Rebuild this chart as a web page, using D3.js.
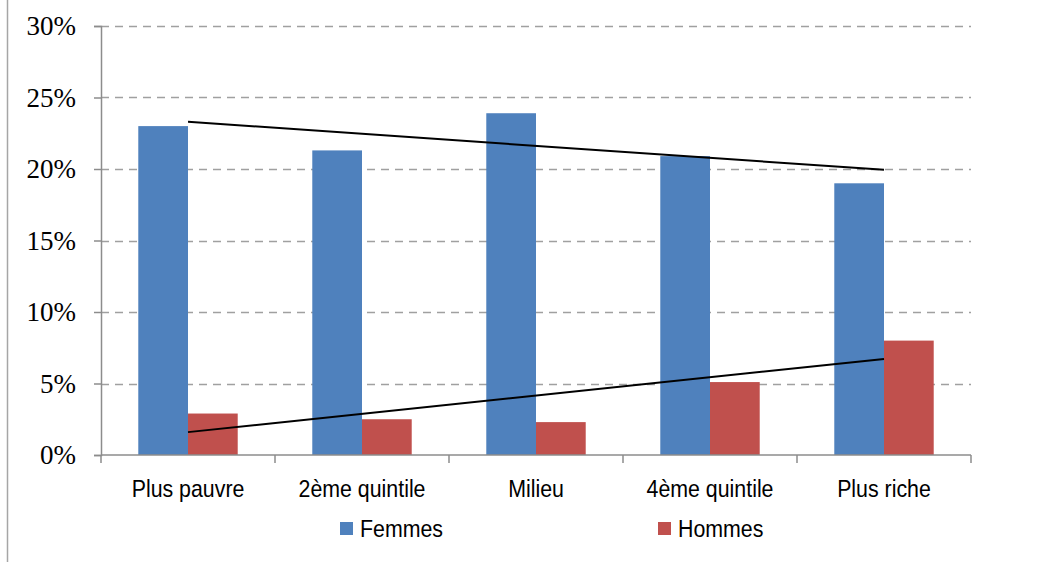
<!DOCTYPE html>
<html>
<head>
<meta charset="utf-8">
<script src="https://cdn.jsdelivr.net/npm/d3@7/dist/d3.min.js"></script>
<style>
  html, body { margin: 0; padding: 0; background: #fff; }
  svg { display: block; }
</style>
</head>
<body>
<svg id="chart" width="1046" height="562"></svg>
<script>
// Share by wealth quintile, per sex (%)
const categories = ["Plus pauvre", "2ème quintile", "Milieu", "4ème quintile", "Plus riche"];
const femmes = [23.0, 21.3, 23.9, 20.9, 19.0];
const hommes = [2.9, 2.5, 2.3, 5.1, 8.0];
const seriesNames = ["Femmes", "Hommes"];
const seriesColors = ["#4F81BD", "#C0504D"];
const yTicks = [0, 5, 10, 15, 20, 25, 30];

const svg = d3.select("#chart");
const margin = { left: 101, right: 75, top: 26, bottom: 107 };
const W = 1046, H = 562;
const innerW = W - margin.left - margin.right;
const innerH = H - margin.top - margin.bottom;
const sansFont = "'Liberation Sans', Arial, sans-serif";
const squeeze = 0.89;

// outer frame edge on the left
svg.append("line")
  .attr("x1", 7.5).attr("x2", 7.5).attr("y1", 0).attr("y2", H)
  .attr("stroke", "#a6a6a6").attr("stroke-width", 1.5);

const g = svg.append("g").attr("transform", `translate(${margin.left},${margin.top})`);

const x = d3.scaleBand().domain(categories).range([0, innerW]).paddingInner(0).paddingOuter(0);
const y = d3.scaleLinear().domain([0, 30]).range([innerH, 0]);

// gap between groups = 150% of a bar width
const barW = x.bandwidth() / 3.5;
const inner = d3.scaleBand().domain(seriesNames)
  .range([barW * 0.75, barW * 2.75]).padding(0);

// dashed gridlines
g.append("g").selectAll("line")
  .data(yTicks.filter(t => t > 0))
  .join("line")
  .attr("x1", 0).attr("x2", innerW)
  .attr("y1", d => Math.round(y(d)) + 0.5).attr("y2", d => Math.round(y(d)) + 0.5)
  .attr("stroke", "#a0a0a0").attr("stroke-width", 1.5)
  .attr("stroke-dasharray", "8,6");

// bars
const rows = categories.map((c, i) => ({ cat: c, vals: [femmes[i], hommes[i]] }));
const groups = g.append("g").selectAll("g")
  .data(rows).join("g")
  .attr("transform", d => `translate(${x(d.cat)},0)`);
groups.selectAll("rect")
  .data(d => d.vals.map((v, j) => ({ key: seriesNames[j], v, j })))
  .join("rect")
  .attr("x", d => inner(d.key))
  .attr("width", inner.bandwidth())
  .attr("y", d => y(d.v))
  .attr("height", d => innerH - y(d.v))
  .attr("fill", d => seriesColors[d.j]);

// y axis
const yAxis = d3.axisLeft(y).tickValues(yTicks).tickFormat(d => d + "%").tickSizeOuter(0).tickSize(7).tickPadding(18);
const ya = g.append("g").call(yAxis);
ya.select(".domain").attr("stroke", "#8c8c8c").attr("stroke-width", 1.5);
ya.selectAll(".tick line").attr("stroke", "#8c8c8c").attr("stroke-width", 1.5);
ya.selectAll("text")
  .attr("font-family", "'Liberation Serif', 'DejaVu Serif', serif")
  .attr("font-size", 27).attr("fill", "#000");

// x axis with ticks at category boundaries
const xa = g.append("g").attr("transform", `translate(0,${innerH})`);
xa.append("line").attr("x1", 0).attr("x2", innerW).attr("y1", 0).attr("y2", 0)
  .attr("stroke", "#8c8c8c").attr("stroke-width", 1.5);
const bounds = categories.map(c => x(c)).concat([innerW]);
xa.selectAll("line.tk").data(bounds).join("line").attr("class", "tk")
  .attr("x1", d => d).attr("x2", d => d).attr("y1", 0).attr("y2", 8)
  .attr("stroke", "#8c8c8c").attr("stroke-width", 1.5);
xa.selectAll("text").data(categories).join("text")
  .attr("transform", d => `translate(${x(d) + x.bandwidth() / 2},42) scale(${squeeze},1)`)
  .attr("text-anchor", "middle")
  .attr("font-family", sansFont)
  .attr("font-size", 24).attr("fill", "#000")
  .text(d => d);

// linear trend lines (least squares over category index)
function trend(vals) {
  const n = vals.length;
  const xs = vals.map((_, i) => i + 1);
  const mx = d3.mean(xs), my = d3.mean(vals);
  const slope = d3.sum(xs, (xi, i) => (xi - mx) * (vals[i] - my)) / d3.sum(xs, xi => (xi - mx) ** 2);
  const b = my - slope * mx;
  return [{ i: 0, v: slope * 1 + b }, { i: n - 1, v: slope * n + b }];
}
const lineGen = d3.line()
  .x(d => x(categories[d.i]) + x.bandwidth() / 2)
  .y(d => y(d.v));
[femmes, hommes].forEach(vals => {
  g.append("path").datum(trend(vals))
    .attr("d", lineGen)
    .attr("fill", "none").attr("stroke", "#000").attr("stroke-width", 2);
});

// legend
const legend = svg.append("g");
const legendItems = [{ name: "Femmes", x: 340 }, { name: "Hommes", x: 658 }];
legendItems.forEach((it, j) => {
  legend.append("rect").attr("x", it.x).attr("y", 522).attr("width", 13).attr("height", 13)
    .attr("fill", seriesColors[j]);
  legend.append("text")
    .attr("transform", `translate(${it.x + 20},537) scale(${squeeze},1)`)
    .attr("font-family", sansFont)
    .attr("font-size", 24).attr("fill", "#000")
    .text(it.name);
});
</script>
</body>
</html>
